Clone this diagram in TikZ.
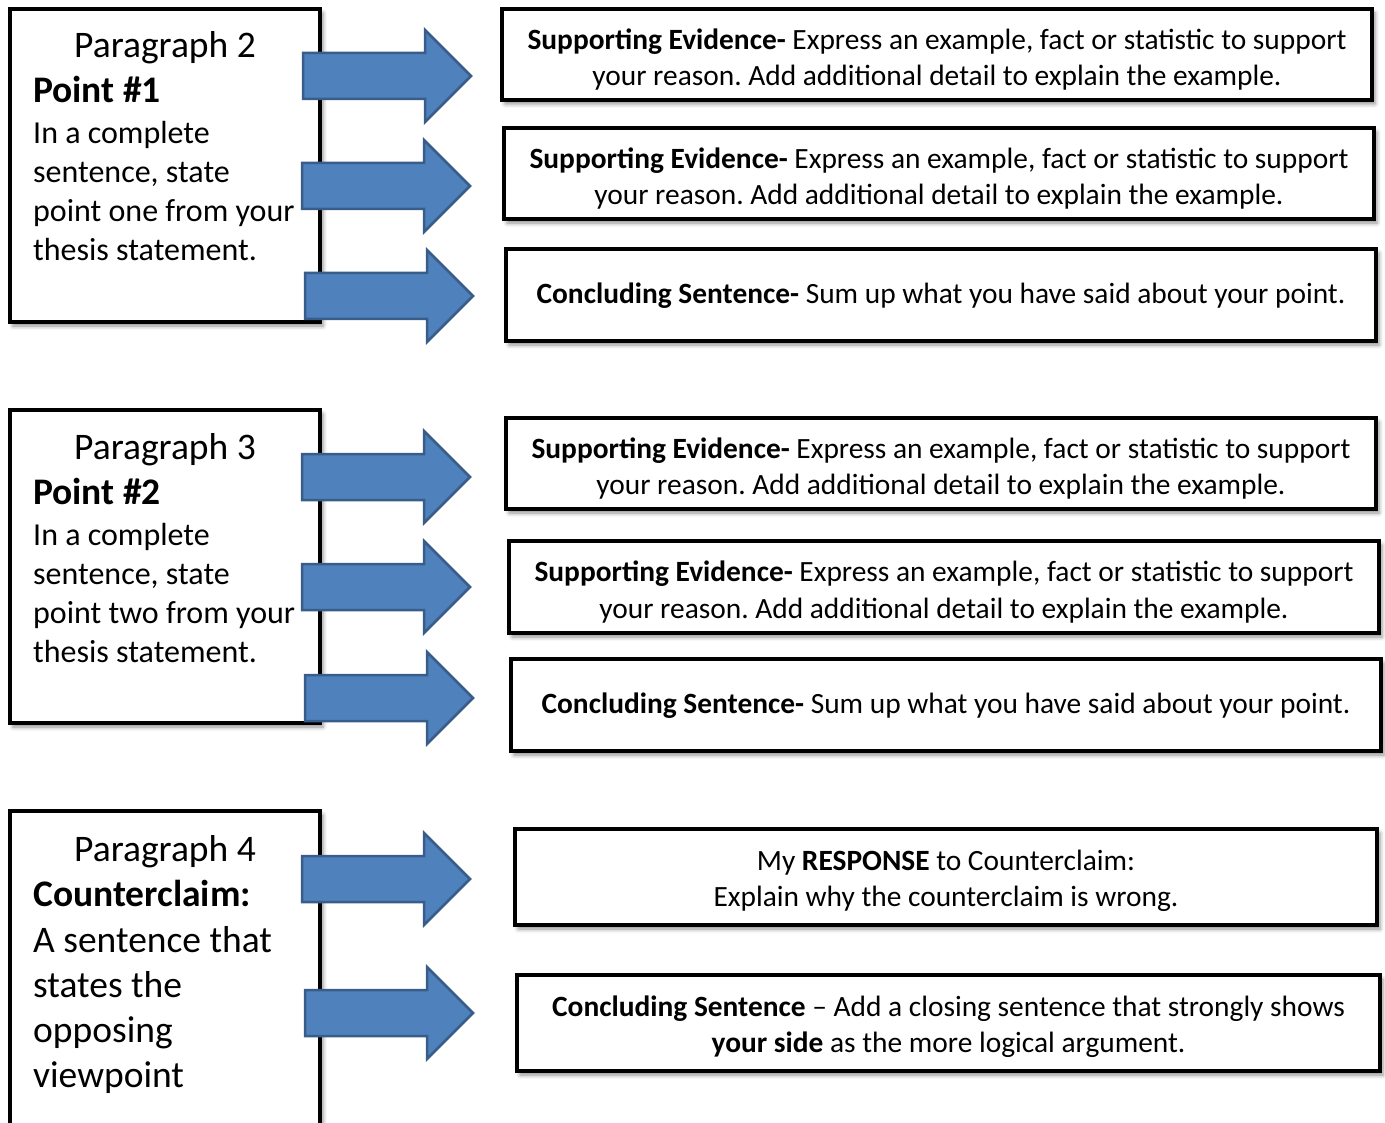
\documentclass[tikz,border=0pt]{standalone}
\usepackage{fontspec}
\setmainfont{Carlito}
\frenchspacing
\usetikzlibrary{shadows.blur}
\definecolor{arrfill}{RGB}{79,129,189}
\definecolor{arrline}{RGB}{56,93,138}
\begin{document}
\begin{tikzpicture}[x=1pt,y=-1pt,
  box/.style={draw=black, line width=4pt, fill=white, inner sep=0pt,
    blur shadow={shadow xshift=3pt, shadow yshift=-4pt, shadow blur radius=4pt, shadow opacity=45}},
  ltitle/.style={anchor=base, inner sep=0pt, font=\fontsize{37.5}{45}\selectfont},
  lhead/.style={anchor=base west, inner sep=0pt, font=\fontsize{37.5}{45}\selectfont\bfseries},
  lbody/.style={anchor=base west, inner sep=0pt, font=\fontsize{32}{39}\selectfont},
  lbodyb/.style={anchor=base west, inner sep=0pt, font=\fontsize{37.5}{45}\selectfont},
  rtext/.style={inner sep=0pt, align=center, font=\fontsize{29.4}{36.3}\selectfont},
  blockarrow/.pic={\path[fill=arrfill, draw=arrline, line width=2.5pt, line join=miter]
    (-168,-23) -- (-46,-23) -- (-46,-46) -- (0,0) -- (-46,46) -- (-46,23) -- (-168,23) -- cycle;}
]
\useasboundingbox (0,0) rectangle (1385,1123);

% left boxes
\node[box, minimum width=310pt, minimum height=313pt] (L1) at (165,165.5) {};
\node[box, minimum width=310pt, minimum height=313pt] (L2) at (165,566.5) {};
\node[box, minimum width=310pt, minimum height=320pt] (L3) at (165,971) {};

% left texts
\node[ltitle] (L1a) at (165,58) {Paragraph 2};
\node[lhead] (L1b) at (33,103) {Point \#1};
\node[lbody] (L1c) at (33,144) {In a complete};
\node[lbody] (L1d) at (33,183) {sentence, state};
\node[lbody] (L1e) at (33,222) {point one from your};
\node[lbody] (L1f) at (33,261) {thesis statement.};

\node[ltitle] (L2a) at (165,459) {Paragraph 3};
\node[lhead] (L2b) at (33,504) {Point \#2};
\node[lbody] (L2c) at (33,545) {In a complete};
\node[lbody] (L2d) at (33,584) {sentence, state};
\node[lbody] (L2e) at (33,623) {point two from your};
\node[lbody] (L2f) at (33,662) {thesis statement.};

\node[ltitle] (L3a) at (165,861) {Paragraph 4};
\node[lhead] (L3b) at (33,906) {Counterclaim:};
\node[lbodyb] (L3c) at (33,952) {A sentence that};
\node[lbodyb] (L3d) at (33,997) {states the};
\node[lbodyb] (L3e) at (33,1042) {opposing};
\node[lbodyb] (L3f) at (33,1087) {viewpoint};

% right boxes
\node[box, minimum width=870pt, minimum height=91pt] (R1) at (937,54.5) {};
\node[box, minimum width=870pt, minimum height=91pt] (R2) at (939,173.5) {};
\node[box, minimum width=870pt, minimum height=92pt] (R3) at (941,295) {};
\node[box, minimum width=870pt, minimum height=91pt] (R4) at (941,463.5) {};
\node[box, minimum width=870pt, minimum height=92pt] (R5) at (944,587) {};
\node[box, minimum width=870pt, minimum height=92pt] (R6) at (946,705) {};
\node[box, minimum width=862pt, minimum height=96pt] (R7) at (946,877) {};
\node[box, minimum width=863pt, minimum height=96pt] (R8) at (948.5,1023) {};

% right texts
\node[rtext] (R1t) at (R1.center) [yshift=-5pt] {\textbf{Supporting Evidence-} Express an example, fact or statistic to support\\your reason. Add additional detail to explain the example.};
\node[rtext] (R2t) at (R2.center) [yshift=-5pt] {\textbf{Supporting Evidence-} Express an example, fact or statistic to support\\your reason. Add additional detail to explain the example.};
\node[rtext] (R3t) at (R3.center) [yshift=-1pt] {\textbf{Concluding Sentence-} Sum up what you have said about your point.};
\node[rtext] (R4t) at (R4.center) [yshift=-5pt] {\textbf{Supporting Evidence-} Express an example, fact or statistic to support\\your reason. Add additional detail to explain the example.};
\node[rtext] (R5t) at (R5.center) [yshift=-5pt] {\textbf{Supporting Evidence-} Express an example, fact or statistic to support\\your reason. Add additional detail to explain the example.};
\node[rtext] (R6t) at (R6.center) [yshift=-1pt] {\textbf{Concluding Sentence-} Sum up what you have said about your point.};
\node[rtext] (R7t) at (R7.center) [yshift=-4pt] {My \textbf{RESPONSE} to Counterclaim:\\Explain why the counterclaim is wrong.};
\node[rtext] (R8t) at (R8.center) [yshift=-4pt] {\textbf{Concluding Sentence} – Add a closing sentence that strongly shows\\\textbf{your side} as the more logical argument.};

% block arrows
\pic at (471,76) {blockarrow};
\pic at (470,186) {blockarrow};
\pic at (473,296) {blockarrow};
\pic at (470,477) {blockarrow};
\pic at (470,587) {blockarrow};
\pic at (473,698) {blockarrow};
\pic at (470,879) {blockarrow};
\pic at (473,1013) {blockarrow};
\end{tikzpicture}
\end{document}
